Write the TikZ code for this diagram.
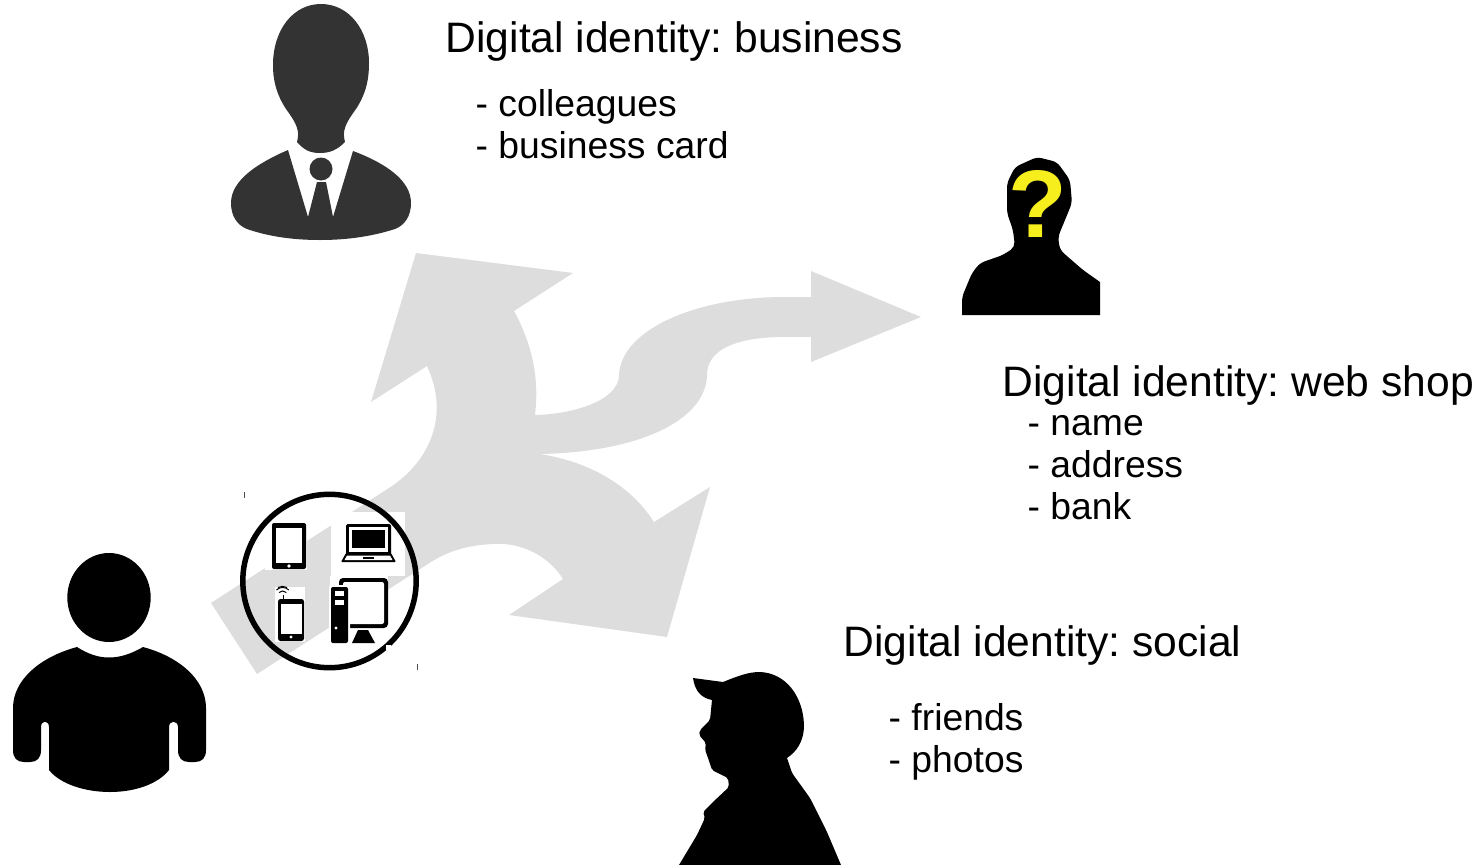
\documentclass[tikz,border=0pt]{standalone}
\usepackage{fontspec}
\setmainfont{Liberation Sans}
\frenchspacing
\definecolor{arrowgray}{HTML}{DDDDDD}
\definecolor{suit}{HTML}{333333}
\definecolor{qmark}{HTML}{F7EE1E}
\tikzset{
  titletext/.style={anchor=base west,inner sep=0pt,font=\fontsize{42.6}{46}\selectfont},
  listtext/.style={anchor=base west,inner sep=0pt,font=\fontsize{37.3}{42}\selectfont},
  ink/.style={fill=black,draw=none},
  paper/.style={fill=white,draw=none},
  tick/.style={draw=black!70,line width=0.8pt},
}
\begin{document}
\begin{tikzpicture}[x=1pt,y=-1pt]
\useasboundingbox (0,0) rectangle (1481,865);
% big gray three-way arrow
\fill[arrowgray] (416,253) -- (573,273) -- (514,311)
  .. controls (530,340) and (540,375) .. (535,415)
  .. controls (575,414) and (619,400) .. (619,375)
  .. controls (621,330) and (695,297) .. (785,297)
  -- (811,297) -- (811,271) -- (921,317) -- (811,362) -- (811,337) -- (785,337)
  .. controls (735,337) and (707,350) .. (707,375)
  .. controls (706,420) and (640,452) .. (540,454)
  .. controls (590,462) and (630,485) .. (654,522)
  -- (710,487) -- (667,637) -- (509,615) -- (563,579)
  .. controls (548,555) and (520,542) .. (493,544)
  .. controls (470,545) and (450,550) .. (431,562)
  -- (257,674) -- (211,603) -- (389,488)
  .. controls (425,465) and (452,420) .. (427,366)
  -- (371,402) -- cycle;
% white image backgrounds of the device icons
\fill[paper] (331,512) rectangle (405,576);
\fill[paper] (265,522) rectangle (307,570);
\fill[paper] (275,587) rectangle (305,642);
\fill[paper] (330,576) rectangle (388,644);
% tablet
\fill[ink,rounded corners=2pt] (272,523) rectangle (306,569);
\fill[paper] (276,528) rectangle (302,563);
\fill[paper] (289,566) circle (1.8);
% laptop
\fill[ink,rounded corners=1.5pt] (346,524) rectangle (391,555);
\fill[paper] (349,527) rectangle (388,552);
\fill[ink] (352,530) rectangle (385,548);
\fill[ink,rounded corners=1pt] (346,553) -- (391,553) -- (396,562) -- (341,562) -- cycle;
\fill[paper] (347,555.5) -- (390,555.5) -- (392.5,560) -- (344.5,560) -- cycle;
\fill[ink] (363,556.5) rectangle (374,559);
% phone
\fill[ink,rounded corners=2.5pt] (278,599) rectangle (304,641);
\fill[paper] (281,604) rectangle (302,634);
\fill[paper] (291,637) circle (1.6);
\draw[line width=1pt] (283,599) -- (283,595);
\draw[line width=1pt] (279,592.5) arc[start angle=225,end angle=315,radius=5.2];
\draw[line width=1pt] (276.5,590) arc[start angle=225,end angle=315,radius=8.7];
\draw[line width=1pt] (278,587.5) arc[start angle=240,end angle=300,radius=9];
% desktop
\fill[ink,rounded corners=4pt] (339,578) rectangle (388,628);
\fill[paper,rounded corners=2pt] (343,582) rectangle (384,624);
\fill[ink] (358,630) -- (368,630) -- (375,643) -- (352,643) -- cycle;
\fill[paper,rounded corners=2pt] (329,585) rectangle (350,645);
\fill[ink,rounded corners=2pt] (331,587) rectangle (348,643);
\fill[paper] (335,591) rectangle (344,596);
\fill[paper] (335,600) rectangle (344,605);
\fill[paper] (336,628) circle (1.7);
% ring round the devices
\draw[black,line width=5.5pt] (329.5,581) circle (86.7);
\fill[paper] (386,645) rectangle (391,650);
\draw[tick] (244,492) -- (244,498);
\draw[tick] (417,664) -- (417,670);
% user, left
\fill[ink] (109,597.5) ellipse (41.7 and 44.5);
\fill[ink] (77,647) .. controls (88,654) and (98,657.5) .. (109,657.5)
  .. controls (120,657.5) and (131,654) .. (143,647)
  .. controls (180,657) and (206,680) .. (206,708)
  -- (206,750) .. controls (206,758) and (202,762) .. (195,762)
  -- (189,762) .. controls (182,762) and (178,758) .. (178,750)
  -- (178,727) .. controls (178,720) and (169,720) .. (169,727)
  -- (169,770) .. controls (158,784) and (135,792) .. (110,792)
  .. controls (85,792) and (60,784) .. (49,770)
  -- (49,727) .. controls (49,720) and (41,720) .. (41,727)
  -- (41,750) .. controls (41,758) and (37,762) .. (30,762)
  -- (24,762) .. controls (17,762) and (13,758) .. (13,750)
  -- (13,708) .. controls (13,680) and (40,657) .. (77,647) -- cycle;
% businessman
\fill[suit] (297,142) .. controls (300,131) and (297,124) .. (286,109)
  .. controls (277,95) and (273,82) .. (273,65)
  .. controls (273,30) and (293,4) .. (321,4)
  .. controls (349,4) and (369,30) .. (369,63)
  .. controls (369,82) and (365,95) .. (356,109)
  .. controls (345,124) and (342,131) .. (345,142)
  .. controls (337,150) and (330,153) .. (320,153)
  .. controls (310,153) and (304,150) .. (297,142) -- cycle;
\fill[suit] (321,169) circle (11.5);
\fill[suit] (288,150) -- (308,217) -- (317,182) -- (326,182) -- (333,217) -- (353,151)
  .. controls (385,163) and (411,180) .. (411,203)
  .. controls (411,216) and (405,225) .. (395,229)
  .. controls (370,237) and (345,240) .. (320,240)
  .. controls (295,240) and (270,237) .. (247,229)
  .. controls (237,225) and (231,216) .. (231,203)
  .. controls (231,180) and (258,163) .. (288,150) -- cycle;
% unknown person
\fill[ink] (962,315) [rounded corners=5pt] -- (962,297) -- (972,273) -- (980,263) -- (1003,255)
  -- (1015,247) -- (1013,230) -- (1007,213) -- (1007,183) -- (1015,167) -- (1037,157)
  -- (1057,162) -- (1070,180) -- (1072,203) -- (1065,220) -- (1058,237) -- (1060,250)
  -- (1083,270) [sharp corners] -- (1100,282) -- (1100,315) -- cycle;
\node[inner sep=0pt,text=qmark,font=\fontsize{96}{96}\selectfont\bfseries] (question) at (1038,204) {?};
% man with cap
\fill[ink] (693,678) -- (723,682)
  .. controls (738,676) and (748,672) .. (760,672)
  .. controls (785,673) and (803,695) .. (804,725)
  .. controls (804,742) and (796,752) .. (787,758)
  [rounded corners=3pt] -- (792,773) -- (810,798) -- (827,832) [sharp corners]
  -- (841,865) -- (679,865) [rounded corners=2pt] -- (697,835) -- (705,818) -- (703,812) -- (713,802) -- (729,787)
  -- (728,778) -- (712,770) -- (707,755) -- (705,750) -- (706,743) -- (699,735) -- (700,730)
  -- (710,720) [sharp corners] -- (712,700)
  .. controls (702,698) and (695,692) .. (693,678) -- cycle;
% texts
\node[titletext] (tbusiness) at (445.5,52) {Digital identity: business};
\node[listtext] (colleagues) at (475.5,116) {- colleagues};
\node[listtext] (card) at (475.5,158) {- business card};
\node[titletext] (tshop) at (1002.5,396) {Digital identity: web shop};
\node[listtext] (name) at (1027.5,435) {- name};
\node[listtext] (address) at (1027.5,477) {- address};
\node[listtext] (bank) at (1027.5,519) {- bank};
\node[titletext] (tsocial) at (843.5,656) {Digital identity: social};
\node[listtext] (friends) at (888.5,730) {- friends};
\node[listtext] (photos) at (888.5,772) {- photos};
\end{tikzpicture}
\end{document}
